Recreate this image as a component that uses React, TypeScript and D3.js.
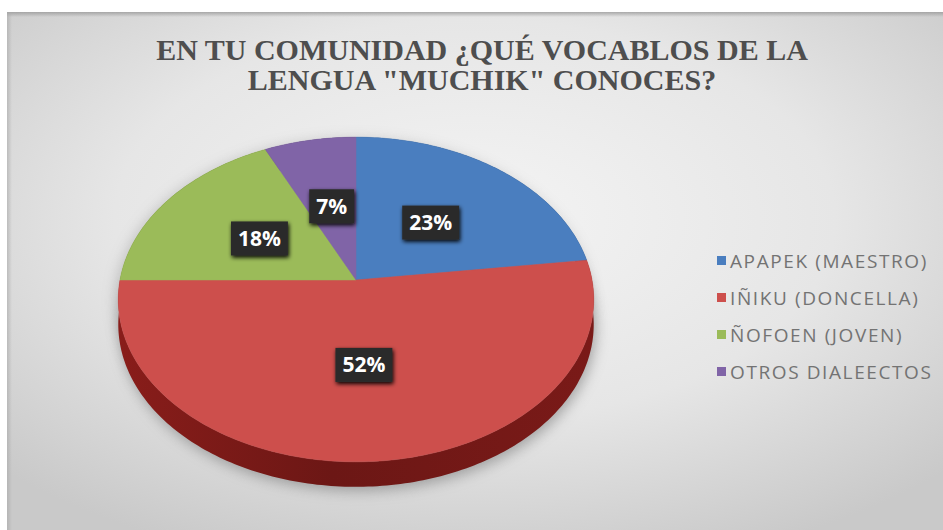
import React, { useEffect, useRef } from "react";
import * as d3 from "d3";

const categories = ["APAPEK (MAESTRO)", "IÑIKU (DONCELLA)", "ÑOFOEN (JOVEN)", "OTROS DIALEECTOS"];
const values = [23, 52, 18, 7];
const colors = ["#4a7ebf", "#cd4f4c", "#9bbb59", "#8064a7"];
const titleLines = ["EN TU COMUNIDAD ¿QUÉ VOCABLOS DE LA", 'LENGUA "MUCHIK" CONOCES?'];

const W = 943;
const H = 530;

export default function App() {
  const ref = useRef<SVGSVGElement>(null);

  useEffect(() => {
    const svg = d3.select(ref.current);
    svg.selectAll("*").remove();
    const defs = svg.append("defs");

    // background
    const bg = defs.append("radialGradient").attr("id", "bg").attr("cx", "50%").attr("cy", "40%").attr("r", "70%");
    bg.append("stop").attr("offset", "0").attr("stop-color", "#f4f4f4");
    bg.append("stop").attr("offset", "0.55").attr("stop-color", "#e6e6e6");
    bg.append("stop").attr("offset", "1").attr("stop-color", "#c9c9c9");

    const edge = defs.append("linearGradient").attr("id", "edge").attr("x1", 0).attr("y1", 0).attr("x2", 0).attr("y2", 1);
    edge.append("stop").attr("offset", "0").attr("stop-color", "#9a9a9a").attr("stop-opacity", 0.8);
    edge.append("stop").attr("offset", "1").attr("stop-color", "#9a9a9a").attr("stop-opacity", 0);
    const edgeL = defs.append("linearGradient").attr("id", "edgeL").attr("x1", 0).attr("y1", 0).attr("x2", 1).attr("y2", 0);
    edgeL.append("stop").attr("offset", "0").attr("stop-color", "#a8a8a8").attr("stop-opacity", 0.6);
    edgeL.append("stop").attr("offset", "1").attr("stop-color", "#a8a8a8").attr("stop-opacity", 0);

    svg.append("rect").attr("width", W).attr("height", H).attr("fill", "#ffffff");
    svg.append("rect").attr("x", 7).attr("y", 12).attr("width", W - 7).attr("height", H - 12).attr("fill", "url(#bg)");
    svg.append("rect").attr("x", 7).attr("y", 12).attr("width", W - 7).attr("height", 5).attr("fill", "url(#edge)");
    svg.append("rect").attr("x", 7).attr("y", 12).attr("width", 5).attr("height", H - 12).attr("fill", "url(#edgeL)");

    // title
    const title = svg.append("g").attr("font-family", "'Liberation Serif', 'Times New Roman', serif")
      .attr("font-weight", "bold").attr("font-size", 30).attr("fill", "#4e4e4e").attr("text-anchor", "middle");
    titleLines.forEach((t, i) => {
      title.append("text").attr("x", 482).attr("y", 60 + i * 30).text(t);
    });

    // pie geometry (perspective projection of a tilted disc)
    const cx = 356, cy = 280, R = 236, B = 160, K = 0.12, depth = 25;
    const project = (theta: number, f: number): [number, number] => {
      const u = f * Math.sin(theta);
      const v = -f * Math.cos(theta);
      const s = 1 / (1 - K * v);
      return [cx + R * u * s, cy + B * v * s];
    };
    const arcPts = (a0: number, a1: number, f = 1, dy = 0) => {
      const n = Math.max(2, Math.ceil(((a1 - a0) * 180) / Math.PI));
      return d3.range(n + 1).map((i) => {
        const p = project(a0 + ((a1 - a0) * i) / n, f);
        return [p[0], p[1] + dy] as [number, number];
      });
    };
    const line = d3.line().curve(d3.curveLinearClosed);

    const arcs = d3.pie<number>().sort(null).startAngle(0).endAngle(2 * Math.PI)(values);

    // shadow
    const sh = defs.append("filter").attr("id", "shadow").attr("x", "-20%").attr("y", "-20%").attr("width", "140%").attr("height", "140%");
    sh.append("feGaussianBlur").attr("stdDeviation", 7);
    const full = arcPts(0, 2 * Math.PI, 1, 0);
    const fullLow = arcPts(0, 2 * Math.PI, 1, depth);
    svg.append("path").attr("d", line(fullLow.map((p) => [p[0] + 2, p[1] + 4]) as any))
      .attr("fill", "#6a6a6a").attr("opacity", 0.55).attr("filter", "url(#shadow)");
    svg.append("path").attr("d", line(full.map((p) => [p[0] - 3, p[1] + 2]) as any))
      .attr("fill", "#7a7a7a").attr("opacity", 0.35).attr("filter", "url(#shadow)");

    // side gradient for each slice
    arcs.forEach((a, i) => {
      const base = d3.hsl(colors[i]);
      const g = defs.append("linearGradient").attr("id", "side" + i).attr("x1", 0).attr("y1", 0).attr("x2", 1).attr("y2", 0);
      const mk = (l: number) => d3.hsl(base.h, Math.min(1, base.s * 1.2), base.l * l).formatHex();
      g.append("stop").attr("offset", "0").attr("stop-color", mk(0.58));
      g.append("stop").attr("offset", "0.45").attr("stop-color", mk(0.46));
      g.append("stop").attr("offset", "1").attr("stop-color", mk(0.52));
    });

    // sides
    arcs.forEach((a, i) => {
      const top = arcPts(a.startAngle, a.endAngle, 1, 0);
      const low = arcPts(a.startAngle, a.endAngle, 1, depth).reverse();
      svg.append("path").attr("d", line([...top, ...low] as any)).attr("fill", `url(#side${i})`);
    });

    // top faces
    arcs.forEach((a, i) => {
      const pts = [[cx, cy] as [number, number], ...arcPts(a.startAngle, a.endAngle, 1, 0)];
      svg.append("path").attr("d", line(pts as any)).attr("fill", colors[i])
        .attr("stroke", colors[i]).attr("stroke-width", 0.5);
    });

    // labels
    const lf = defs.append("filter").attr("id", "lshadow").attr("x", "-30%").attr("y", "-30%").attr("width", "160%").attr("height", "160%");
    lf.append("feGaussianBlur").attr("in", "SourceAlpha").attr("stdDeviation", 2);
    lf.append("feOffset").attr("dx", 1).attr("dy", 2).attr("result", "b");
    const fm = lf.append("feMerge");
    fm.append("feMergeNode").attr("in", "b");
    fm.append("feMergeNode").attr("in", "SourceGraphic");

    const total = d3.sum(values);
    arcs.forEach((a, i) => {
      const mid = (a.startAngle + a.endAngle) / 2;
      const [x, y] = project(mid, 0.5);
      const g = svg.append("g").attr("transform", `translate(${x},${y})`);
      const rect = g.append("rect").attr("fill", "#2c2c2c").attr("filter", "url(#lshadow)");
      const t = g.append("text").attr("text-anchor", "middle").attr("dy", "0.36em")
        .attr("font-family", "'Open Sans', sans-serif").attr("font-weight", "bold").attr("font-size", 21)
        .attr("fill", "#ffffff").text(Math.round((values[i] / total) * 100) + "%");
      const w = (t.node() as SVGTextElement).getComputedTextLength();
      rect.attr("x", -w / 2 - 7).attr("y", -17).attr("width", w + 14).attr("height", 34);
    });

    // legend
    const lg = svg.append("g").attr("font-family", "'Open Sans', sans-serif").attr("font-size", 19).attr("fill", "#737373");
    categories.forEach((c, i) => {
      const y = 261 + i * 37;
      lg.append("rect").attr("x", 717).attr("y", y - 5).attr("width", 9).attr("height", 9).attr("fill", colors[i]);
      lg.append("text").attr("x", 730).attr("y", y).attr("dy", "0.36em").attr("letter-spacing", 1.6).text(c);
    });
  }, []);

  return (
    <svg ref={ref} width={W} height={H} style={{ position: "absolute", left: 0, top: 0, display: "block" }} />
  );
}
